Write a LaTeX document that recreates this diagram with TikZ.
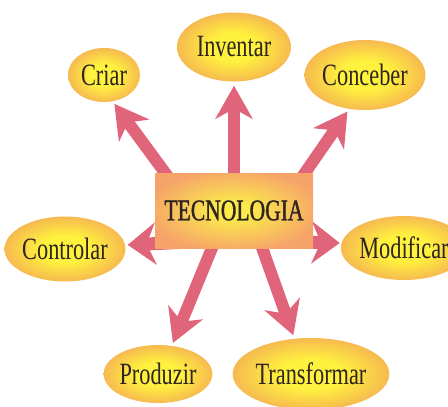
\documentclass[tikz,border=0pt]{standalone}
\usepackage{fontspec}
\setmainfont{Liberation Serif}[FakeStretch=0.72]
\newfontfamily\titlefont{Liberation Serif}[FakeStretch=0.72,FakeBold=1.2]
\usetikzlibrary{shapes.geometric,arrows.meta,backgrounds}
\definecolor{ovalin}{HTML}{FFF23E}
\definecolor{ovalout}{HTML}{F2A058}
\definecolor{boxin}{HTML}{FBEA4A}
\definecolor{boxout}{HTML}{F6A36A}
\definecolor{arrowred}{HTML}{E0657A}
\definecolor{ink}{HTML}{2E2420}
\pgfdeclareradialshading[ovalin,ovalout]{ovalshade}{\pgfpoint{0bp}{0bp}}{color(0bp)=(ovalin); color(10bp)=(ovalin); color(32bp)=(ovalout); color(60bp)=(ovalout)}
\pgfdeclareradialshading[boxin,boxout]{boxshade}{\pgfpoint{0bp}{0bp}}{color(0bp)=(boxin); color(5bp)=(boxin); color(28bp)=(boxout); color(60bp)=(boxout)}
\begin{document}
\begin{tikzpicture}[x=1pt,y=-1pt,
    oval/.style={ellipse,inner sep=0pt,shading=ovalshade,text=ink,font=\fontsize{31}{31}\selectfont},
    arr/.style={draw=arrowred,line width=12pt,-{Stealth[length=33pt,width=37pt,inset=10pt]}},
    sidearr/.style={draw=arrowred,line width=13pt,-{Stealth[length=28pt,width=42pt,inset=9pt]}}]
    \useasboundingbox (0,0) rectangle (448,407);
    \node[rectangle,minimum width=158pt,minimum height=75pt,shading=boxshade,text=ink,font=\titlefont\fontsize{30}{30}\selectfont] at (234,210.5) (tec) {TECNOLOGIA};
    \node[oval,minimum width=72pt,minimum height=54pt] at (104,75) (criar) {Criar};
    \node[oval,minimum width=114pt,minimum height=69pt] at (234,47) (inv) {Inventar};
    \node[oval,minimum width=110pt,minimum height=70pt] at (365,75) (conc) {Conceber};
    \node[oval,minimum width=106pt,minimum height=65pt] at (65,249) (ctrl) {Controlar};
    \node[oval,minimum width=108pt,minimum height=64pt] at (404,248) (mod) {Modificar};
    \node[oval,minimum width=99pt,minimum height=58pt] at (158,374) (prod) {Produzir};
    \node[oval,minimum width=127pt,minimum height=72pt] at (311,374) (trans) {Transformar};
    \begin{scope}[on background layer]
        \draw[arr,shorten >=3pt] ([xshift=-57pt,yshift=21.5pt]tec.center) -- (criar.-72);
        \draw[arr,shorten >=4pt] ([yshift=10pt]tec.center) -- (inv.south);
        \draw[arr,shorten >=3pt] ([xshift=59.5pt,yshift=21pt]tec.center) -- (conc.-115);
        \draw[sidearr,shorten >=2pt] ([xshift=-34pt,yshift=-31pt]tec.center) -- ([yshift=4pt]ctrl.east);
        \draw[sidearr,shorten >=1pt] ([xshift=36pt,yshift=-31pt]tec.center) -- ([yshift=5pt]mod.west);
        \draw[arr,shorten >=3pt] ([xshift=-14.4pt,yshift=-19pt]tec.center) -- (prod.64);
        \draw[arr,shorten >=3.5pt] ([xshift=21.4pt,yshift=-18.6pt]tec.center) -- (trans.115);
    \end{scope}
\end{tikzpicture}
\end{document}
